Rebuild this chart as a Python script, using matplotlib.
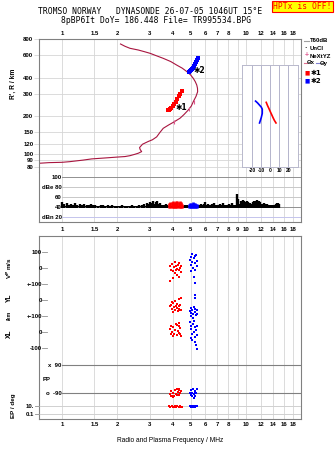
import numpy as np
import matplotlib.pyplot as plt
from matplotlib.ticker import NullLocator

plt.rcParams['font.family'] = ['Liberation Sans', 'DejaVu Sans']
plt.rcParams['font.weight'] = 'bold'

# ---- data ----
top_ticks = [1, 1.5, 2, 3, 4, 5, 6, 7, 8, 10, 12, 14, 16, 18]
amp_ticks = [1, 1.5, 2, 3, 4, 5, 6, 7, 8, 9, 10, 12, 14, 16, 18]
grid_f = [1, 1.5, 2, 3, 4, 5, 6, 7, 8, 9, 10, 12, 14, 16, 18]
h_ticks = [80, 90, 100, 120, 150, 200, 300, 400, 600, 800]

# virtual / real height profile trace
curve_f = [0.75, 0.85, 1.0, 1.1, 1.3, 1.45, 1.7, 1.98, 2.2, 2.34, 2.49, 2.6, 2.71, 2.66, 2.64,
           2.74, 2.94, 3.1, 3.27, 3.4, 3.55, 3.8, 4.02, 4.2, 4.38, 4.6, 4.86, 5.05, 5.17, 5.35,
           5.46, 5.45, 5.4, 5.3, 5.17, 5.0, 4.77, 4.5, 4.2, 3.9, 3.55, 3.25, 3.01, 2.8, 2.6,
           2.34, 2.2, 2.08]
curve_h = [85, 86, 86.5, 87.5, 90, 92, 93.5, 95, 96, 97.5, 100, 102, 105, 109, 113,
           120, 126, 130, 137, 148, 160, 170, 178, 185, 192, 205, 223, 240, 259, 285,
           310, 330, 350, 372, 395, 420, 446, 475, 502, 535, 567, 595, 621, 640, 659,
           680, 705, 735]
nexyz_f = [5.2, 4.9, 4.05]
nexyz_h = [257, 226, 178]

# echo traces
e1_f = [3.78, 3.82, 3.85, 3.92, 4.0, 4.08, 4.16, 4.24, 4.32, 4.40, 4.47]
e1_h = [222, 224, 226, 232, 238, 247, 258, 272, 286, 300, 316]
e2_f = [4.92, 4.95, 4.97, 5.0, 5.02, 5.08, 5.14, 5.2, 5.27, 5.35, 5.42, 5.5]
e2_h = [446, 452, 450, 462, 458, 468, 480, 495, 512, 530, 548, 567]

# tilt inset
t1_tilt = [-4.5, -3, -1.5, 0, 1.5, 3, 4.5, 6.3]
t1_h = [345, 320, 300, 280, 262, 245, 230, 217]
t2_tilt = [-16.3, -14, -11.9, -10, -8.9, -8.9, -10, -11.9]
t2_h = [355, 340, 324, 310, 296, 269, 245, 217]

# amplitude
amp_f = [1.00, 1.03, 1.06, 1.09, 1.12, 1.15, 1.18, 1.21, 1.25, 1.28, 1.32, 1.36, 1.40, 1.44,
         1.48, 1.52, 1.57, 1.62, 1.67, 1.72, 1.77, 1.82, 1.88, 1.94, 2.00, 2.06, 2.12, 2.19,
         2.26, 2.33, 2.40, 2.47, 2.55, 2.63, 2.71, 2.80, 2.88, 2.95, 3.00, 3.06, 3.12, 3.18,
         3.24, 3.30, 3.36, 3.42, 3.50, 3.58, 3.66, 3.74, 4.56, 4.64, 4.72, 4.80, 5.52, 5.62,
         5.72, 5.82, 5.92, 6.00, 6.10, 6.20, 6.32, 6.44, 6.56, 6.68, 6.80, 6.92, 7.05, 7.20,
         7.35, 7.50, 7.65, 7.80, 7.95, 8.10, 8.25, 8.40, 8.55, 8.70, 8.88, 9.05, 9.20, 9.35,
         9.50, 9.65, 9.80, 9.95, 10.1, 10.3, 10.5, 10.7, 10.9, 11.1, 11.3, 11.5, 11.7, 11.9,
         12.1, 12.3, 12.5, 12.75, 13.0, 13.25, 13.5, 13.75, 14.0, 14.25, 14.5, 14.75, 15.0, 15.2]
amp_db = [50, 46, 48, 45, 47, 44, 49, 45, 46, 44, 47, 45, 44, 46,
          44, 45, 43, 45, 44, 43, 44, 43, 44, 43, 42, 43, 44, 42,
          43, 42, 44, 43, 42, 44, 45, 47, 49, 46, 51, 48, 53, 47,
          50, 52, 46, 48, 45, 44, 46, 44, 43, 44, 43, 44, 44, 45,
          46, 44, 47, 51, 45, 46, 44, 45, 47, 48, 44, 45, 44, 46,
          45, 48, 44, 45, 44, 46, 45, 48, 44, 45, 66, 56, 47, 53,
          51, 54, 52, 50, 53, 51, 49, 47, 51, 53, 52, 55, 53, 51,
          47, 46, 48, 46, 47, 45, 44, 45, 44, 45, 46, 48, 49, 47]
amp1_f = [3.82, 3.88, 3.94, 4.00, 4.06, 4.12, 4.18, 4.24, 4.30, 4.36, 4.42, 4.48]
amp1_db = [49, 51, 50, 52, 49, 51, 53, 52, 50, 53, 51, 46]
amp2_f = [4.88, 4.95, 5.02, 5.09, 5.16, 5.23, 5.30, 5.37, 5.44]
amp2_db = [46, 48, 49, 47, 50, 48, 49, 47, 46]

# lower panel scatter: (f, value)
vp1_f = [3.85, 3.9, 3.95, 4.0, 4.05, 4.1, 4.15, 4.2, 4.25, 4.3, 4.35, 4.4, 4.45, 4.1, 4.2, 4.0, 3.88, 4.3, 4.42, 4.15]
vp1 = [10, -10, 25, -20, 5, -30, 15, -5, 20, -15, 30, 0, -25, 40, -45, -60, -80, -55, 10, -10]
yl1_f = [3.85, 3.9, 3.95, 4.0, 4.05, 4.1, 4.15, 4.2, 4.25, 4.3, 4.35, 4.4, 4.45, 4.1, 4.3, 4.45, 4.0, 4.2, 4.35, 3.95]
yl1 = [-40, -30, -55, -20, -45, -60, -35, -50, -70, -40, -55, -30, -65, -5, 5, 10, -75, -25, -60, -10]
xl1_f = [3.85, 3.9, 3.95, 4.0, 4.05, 4.1, 4.15, 4.2, 4.25, 4.3, 4.35, 4.4, 4.45, 4.0, 4.3, 4.2, 3.9, 4.4]
xl1 = [20, 40, 0, 30, -10, 15, 50, -20, 5, 35, -5, 25, -25, -25, 55, 45, -15, -10]
vp2_f = [4.95, 5.0, 5.05, 5.1, 5.15, 5.2, 5.25, 5.3, 5.35, 5.4, 5.45, 5.0, 5.2, 5.25, 5.3, 5.1, 5.4]
vp2 = [50, 20, 70, 40, 0, 60, 30, -10, 80, 45, 15, -20, -55, -95, 75, 85, 10]
yl2_f = [5.25, 5.28, 4.95, 5.0, 5.05, 5.1, 5.15, 5.2, 5.25, 5.3, 5.35, 5.4, 5.45, 5.0]
yl2 = [30, 15, -70, -50, -80, -60, -90, -45, -75, -55, -95, -65, -85, -100]
xl2_f = [4.95, 5.0, 5.05, 5.1, 5.15, 5.2, 5.25, 5.3, 5.35, 5.4, 5.45, 5.0, 5.1, 5.2, 5.3, 5.35, 5.45, 5.15]
xl2 = [60, 20, 40, -10, 50, 0, 30, -30, 10, -20, 40, -40, -50, 70, -60, -80, -105, 85]
pp1_f = [3.85, 3.9, 3.95, 4.0, 4.05, 4.1, 4.15, 4.2, 4.25, 4.3, 4.35, 4.4, 4.45, 4.0, 4.2, 4.3, 3.9]
pp1 = [-95, -75, -105, -85, -110, -70, -95, -60, -80, -100, -65, -90, -75, -115, -100, -70, -110]
pp2_f = [4.95, 5.0, 5.05, 5.1, 5.15, 5.2, 5.25, 5.3, 5.35, 5.4, 5.1, 5.2, 5.3]
pp2 = [-85, -100, -70, -110, -60, -95, -75, -105, -85, -65, -90, -120, -80]
ep1_f = [3.82, 3.88, 3.94, 4.0, 4.06, 4.12, 4.18, 4.24, 4.3, 4.36, 4.42, 4.48]
ep1 = [8, 6, 9, 7, 6, 8, 7, 9, 6, 8, 7, 6]
ep2_f = [4.95, 5.02, 5.09, 5.16, 5.23, 5.3, 5.37, 5.44]
ep2 = [8, 7, 9, 7, 8, 6, 9, 8]

W, H = 335, 451
fig = plt.figure(figsize=(W / 100, H / 100), dpi=100)
L, R = 39.3, 301
FLIM = (0.753, 19.9)
FRAME = '#808080'
GRID = '#d6d6d6'
CURVE = '#a8153f'
TS = 4.3


def pax(x0, y0, x1, y1):
    return fig.add_axes([x0 / W, 1 - y1 / H, (x1 - x0) / W, (y1 - y0) / H])


def ftext(x, y, s, **kw):
    fig.text(x / W, 1 - y / H, s, **kw)


def logx(a):
    a.set_xscale('log')
    a.set_xlim(FLIM)
    a.xaxis.set_minor_locator(NullLocator())


def fmt(v):
    return ('%g' % v)


# ---- main panel ----
ax = pax(L, 39.3, R, 172)
logx(ax)
ax.set_yscale('log')
ax.set_ylim(72.6, 800)
ax.yaxis.set_minor_locator(NullLocator())
for f in grid_f:
    ax.axvline(f, color=GRID, lw=0.6, zorder=0)
for h in h_ticks:
    ax.axhline(h, color=GRID, lw=0.6, zorder=0)
ax.set_xticks(top_ticks)
ax.set_xticklabels([fmt(v) for v in top_ticks])
ax.xaxis.tick_top()
ax.tick_params(axis='x', length=0, pad=2.6, labelsize=TS)
ax.set_yticks(h_ticks)
ax.set_yticklabels([fmt(v) for v in h_ticks])
ax.yaxis.set_minor_locator(NullLocator())
ax.tick_params(axis='y', length=3.3, width=0.6, color=GRID, pad=1, labelsize=TS)
for s in ax.spines.values():
    s.set_color(FRAME)
    s.set_linewidth(0.8)
ax.spines['bottom'].set_visible(False)
ax.plot(curve_f, curve_h, color=CURVE, lw=0.8)
ax.plot(nexyz_f, nexyz_h, ls='none', marker='|', ms=3, mew=0.8, color='#e05a90')
ax.plot(e1_f, e1_h, ls='none', marker='s', ms=2.4, mew=0, color='red')
ax.plot(e2_f, e2_h, ls='none', marker='s', ms=2.4, mew=0, color='blue')
ax.text(4.15, 232, '\u27311', fontsize=5.5, va='center', family=['DejaVu Sans'])
ax.text(5.17, 454, '\u27312', fontsize=5.5, va='center', family=['DejaVu Sans'])
ftext(13.5, 84, "R', R / km", rotation=90, fontsize=4.8, ha='center', va='center')

# tilt inset
ti = pax(242.3, 65, 298.3, 167.3)
ti.set_xlim(-31, 31)
ti.set_yscale('log')
ti.set_ylim(80, 800)
ti.set_facecolor('white')
for t in [-20, -10, 0, 10, 20]:
    ti.axvline(t, color='#a8a8c4', lw=0.6, zorder=0)
for s in ti.spines.values():
    s.set_color('#b8b8cc')
    s.set_linewidth(0.7)
ti.set_xticks([-20, -10, 0, 10, 20])
ti.set_xticklabels(['-20', '-10', '0', '10', '20'])
ti.tick_params(axis='x', length=0, pad=0.5, labelsize=3.6)
ti.set_yticks([])
ti.yaxis.set_minor_locator(NullLocator())
ti.set_xlabel('Tilt / deg', fontsize=3.6, labelpad=-0.5)
ti.plot(t1_tilt, t1_h, color='red', lw=1.2)
ti.plot(t2_tilt, t2_h, color='blue', lw=1.2)

# legend
ftext(310, 41, 'T60dB', fontsize=TS, va='center')
fig.add_artist(plt.Line2D([304 / W, 309 / W], [1 - 41 / H] * 2, color='#a0a0a0', lw=0.8))
ftext(306, 49, '\u00b7', fontsize=6, va='center', ha='center')
ftext(310, 49, 'UnCl', fontsize=TS, va='center')
ftext(306.5, 56, '+', fontsize=5, va='center', ha='center', color='#e05a90')
ftext(310, 56, 'NeXtYZ', fontsize=TS, va='center')
fig.add_artist(plt.Line2D([304 / W, 307 / W], [1 - 63 / H] * 2, color='#e07090', lw=0.8))
ftext(307, 63, '\u0398x', fontsize=TS, va='center')
fig.add_artist(plt.Line2D([316 / W, 319.5 / W], [1 - 63 / H] * 2, color='#8080d0', lw=0.8))
ftext(320, 63, '\u0398y', fontsize=TS, va='center')
ftext(307.5, 72.7, '\u25a0', fontsize=4, va='center', ha='center', color='red', family=['DejaVu Sans'])
ftext(311, 72.7, '\u27311', fontsize=5, va='center', family=['DejaVu Sans'])
ftext(307.5, 80.7, '\u25a0', fontsize=4, va='center', ha='center', color='blue', family=['DejaVu Sans'])
ftext(311, 80.7, '\u27312', fontsize=5, va='center', family=['DejaVu Sans'])

# ---- amplitude panel ----
aa = pax(L, 172, R, 222.3)
logx(aa)
aa.set_ylim(10, 110.6)
for f in grid_f:
    aa.axvline(f, color=GRID, lw=0.6, zorder=0)
aa.axhline(100, xmin=(62 - L) / (R - L), color='#909090', lw=0.7)
aa.axhline(80, xmin=(62 - L) / (R - L), color='#c8c8c8', lw=0.7)
aa.axhline(60, xmin=(62 - L) / (R - L), color='#c8c8c8', lw=0.7)
aa.axhline(40, xmin=(62 - L) / (R - L), color='#909090', lw=0.7)
aa.axhline(20, xmin=(62 - L) / (R - L), color='#c4c4ec', lw=0.7)
aa.fill_between([1.0, 15.2], 39.5, 42.5, color='black', lw=0)
aa.vlines(amp_f, 39.5, amp_db, color='black', lw=1.7)
aa.vlines(amp1_f, 39.5, amp1_db, color='red', lw=1.9)
aa.vlines(amp2_f, 39.5, amp2_db, color='blue', lw=1.9)
aa.set_xticks(amp_ticks)
aa.set_xticklabels([fmt(v) for v in amp_ticks])
aa.tick_params(axis='x', length=0, pad=3.5, labelsize=TS)
aa.set_yticks([])
for s in aa.spines.values():
    s.set_color(FRAME)
    s.set_linewidth(0.8)
aa.spines['top'].set_visible(False)
tr = aa.get_yaxis_transform()
xr = (61.7 - L) / (R - L)
for v, s in [(100, '100'), (80, 'dBe 80'), (60, '60'), (40, '40'), (20, 'dBn 20')]:
    aa.text(xr, v, s, transform=tr, ha='right', va='center', fontsize=TS)

# ---- lower panel ----
al = pax(L, 236, R, 419.3)
logx(al)
al.set_ylim(0, 1)
for f in grid_f:
    al.axvline(f, color=GRID, lw=0.6, zorder=0)
al.set_xticks(top_ticks)
al.set_xticklabels([fmt(v) for v in top_ticks])
al.tick_params(axis='x', length=0, pad=2.2, labelsize=TS)
al.set_yticks([])
for s in al.spines.values():
    s.set_color(FRAME)
    s.set_linewidth(0.8)
al.set_xlabel('Radio and Plasma Frequency / MHz', fontsize=4.8, labelpad=7)


def sub(y0, y1, ylim, log=False):
    a = pax(L, y0, R, y1)
    logx(a)
    if log:
        a.set_yscale('log')
    a.set_ylim(ylim)
    a.axis('off')
    return a


def lab(a, y, s, xr=41.8, dash=(42.3, 46.5)):
    t = a.get_yaxis_transform()
    a.text((xr - L) / (R - L), y, s, transform=t, ha='right', va='center', fontsize=TS, clip_on=False)
    if dash:
        a.plot([(dash[0] - L) / (R - L), (dash[1] - L) / (R - L)], [y, y], transform=t,
               color='#909090', lw=0.6, clip_on=False)


ax_vp = sub(236, 284, (-100, 200))
ax_yl = sub(284, 316, (-100, 100))
ax_xl = sub(316, 364, (-200, 100))
ax_pp = sub(364, 400, (-133, 98.4))
ax_ep = sub(400, 419.3, (0.0056, 316), log=True)

lab(ax_vp, 100, '100')
lab(ax_vp, 0, '0')
lab(ax_yl, 100, '+-100')
lab(ax_yl, 0, '0')
lab(ax_xl, 100, '+-100')
lab(ax_xl, 0, '0')
lab(ax_xl, -100, '-100')

x62 = (62 - L) / (R - L)
ax_pp.axhline(90, xmin=x62, color='#808080', lw=0.8)
ax_pp.axhline(-90, xmin=x62, color='#808080', lw=0.8)
lab(ax_pp, 90, 'x  90', xr=61.5, dash=None)
lab(ax_pp, -90, 'o  -90', xr=61.5, dash=None)
ax_pp.text((42.5 - L) / (R - L), 0, 'PP', transform=ax_pp.get_yaxis_transform(),
           fontsize=TS, va='center')
ax_ep.axhline(10, color='#d0d0d0', lw=0.7)
ax_ep.axhline(0.1, color='#d0d0d0', lw=0.7)
lab(ax_ep, 10, '10.', xr=34.5, dash=(34.5, 39.3))
lab(ax_ep, 0.1, '0.1', xr=34.5, dash=(34.5, 39.3))

sq = dict(ls='none', marker='s', ms=1.6, mew=0)
ax_vp.plot(vp1_f, vp1, color='red', **sq)
ax_vp.plot(vp2_f, vp2, color='blue', **sq)
ax_yl.plot(yl1_f, yl1, color='red', **sq)
ax_yl.plot(yl2_f, yl2, color='blue', **sq)
ax_xl.plot(xl1_f, xl1, color='red', **sq)
ax_xl.plot(xl2_f, xl2, color='blue', **sq)
ax_pp.plot(pp1_f, pp1, color='red', **sq)
ax_pp.plot(pp2_f, pp2, color='blue', **sq)
ax_ep.plot(ep1_f, ep1, color='red', ls='none', marker='s', ms=1.8, mew=0)
ax_ep.plot(ep2_f, ep2, color='blue', ls='none', marker='s', ms=1.8, mew=0)

ftext(9, 268, 'V$^\\mathsf{P}$ m/s', rotation=90, fontsize=4.5, ha='center', va='center')
ftext(9, 298, 'YL', rotation=90, fontsize=4.8, ha='center', va='center')
ftext(9, 315, '/km', rotation=90, fontsize=3.8, ha='center', va='center')
ftext(9, 334, 'XL', rotation=90, fontsize=4.8, ha='center', va='center')
ftext(13.5, 406, 'EP / deg', rotation=90, fontsize=4.5, ha='center', va='center')

# ---- header ----
ftext(150, 11.5, 'TROMSO NORWAY   DYNASONDE 26-07-05 1046UT 15\u00b0E', family='DejaVu Sans Mono',
      weight='normal', fontsize=5.8, ha='center', va='center')
ftext(156.5, 20.3, '8pBP6It DoY= 186.448 File= TR995534.BPG', family='DejaVu Sans Mono',
      weight='normal', fontsize=5.8, ha='center', va='center')
ftext(302.5, 6.7, 'HPTx is OFF!', family='DejaVu Sans Mono', weight='normal', fontsize=5.8,
      color='red', ha='center', va='center',
      bbox=dict(boxstyle='square,pad=0.12', fc='yellow', ec='red', lw=0.8))

fig.savefig('out.png', dpi=100)
